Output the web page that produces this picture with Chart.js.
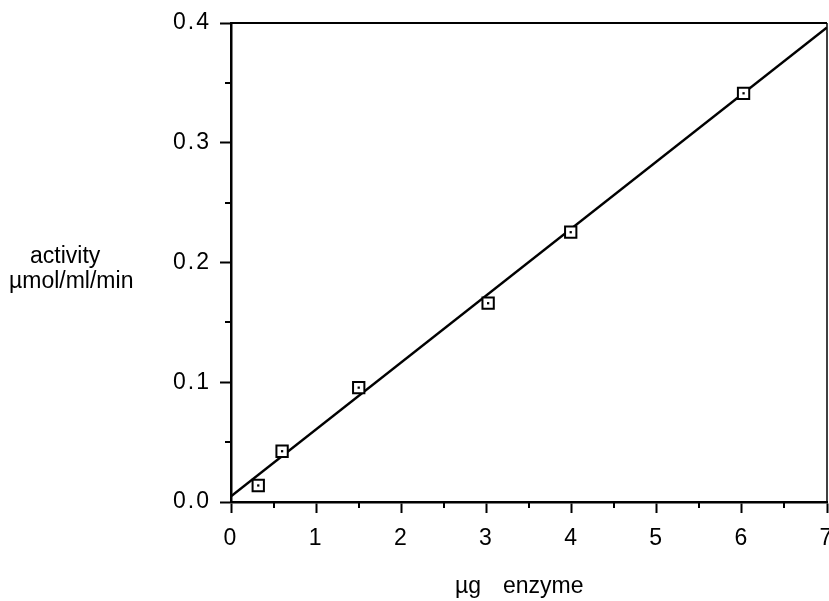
<!DOCTYPE html>
<html>
<head>
<meta charset="utf-8">
<script src="https://cdn.jsdelivr.net/npm/chart.js@4/dist/chart.umd.min.js"></script>
<style>
  html, body { margin: 0; padding: 0; background: #fff; }
  #wrap { width: 829px; height: 601px; position: relative; }
</style>
</head>
<body>
<div id="wrap"><canvas id="c" width="829" height="601"></canvas></div>
<script>
// measured enzyme amounts (µg) and activities (µmol/ml/min)
const enzymeUg = [0.32, 0.60, 1.50, 3.02, 3.99, 6.02];
const activity = [0.0138, 0.0424, 0.0955, 0.166, 0.2253, 0.3413];

// fitted straight line end points
const fitX = [0, 7];
const fitY = [0.0048, 0.3963];

// axis ticks
const xMajorTicks = [0, 1, 2, 3, 4, 5, 6, 7];
const xMinorTicks = [0.5, 1.5, 2.5, 3.5, 4.5, 5.5, 6.5];
const yMajorTicks = [0.0, 0.1, 0.2, 0.3, 0.4];
const yMinorTicks = [0.05, 0.15, 0.25, 0.35];

const yTitleLines = ['activity', 'µmol/ml/min'];
const xTitleWords = ['µg', 'enzyme'];

const FONT = '"Liberation Sans", Arial, Helvetica, sans-serif';
const FONT_SIZE = 23;

const points = enzymeUg.map((x, i) => ({ x, y: activity[i] }));
const fitLine = fitX.map((x, i) => ({ x, y: fitY[i] }));

const decor = {
  id: 'decor',
  beforeDraw(chart) {
    // slightly wider spacing for the axis numbers
    chart.ctx.letterSpacing = '2px';
  },
  beforeDatasetsDraw(chart) {
    chart.ctx.letterSpacing = '0px';
  },
  afterDraw(chart) {
    const ctx = chart.ctx;
    const { left, right, top, bottom } = chart.chartArea;
    const xs = chart.scales.x, ys = chart.scales.y;
    ctx.save();
    ctx.letterSpacing = '0px';
    ctx.strokeStyle = '#000';
    // frame top and right
    ctx.lineWidth = 2;
    ctx.beginPath();
    ctx.moveTo(left, top); ctx.lineTo(right, top);
    ctx.stroke();
    ctx.lineWidth = 1.5;
    ctx.beginPath();
    ctx.moveTo(right, top); ctx.lineTo(right, bottom);
    ctx.stroke();
    // minor ticks
    ctx.lineWidth = 2;
    ctx.beginPath();
    xMinorTicks.forEach(v => {
      const px = Math.round(xs.getPixelForValue(v));
      ctx.moveTo(px, bottom); ctx.lineTo(px, bottom + 6);
    });
    yMinorTicks.forEach(v => {
      const py = Math.round(ys.getPixelForValue(v));
      ctx.moveTo(left, py); ctx.lineTo(left - 6, py);
    });
    ctx.stroke();
    // axis titles
    ctx.fillStyle = '#000';
    ctx.font = FONT_SIZE + 'px ' + FONT;
    ctx.textBaseline = 'alphabetic';
    ctx.textAlign = 'left';
    ctx.fillText(yTitleLines[0], 30, 263);
    ctx.fillText(yTitleLines[1], 9, 288);
    ctx.fillText(xTitleWords[0], 455, 593);
    ctx.fillText(xTitleWords[1], 503, 593);
    ctx.restore();
  }
};

new Chart(document.getElementById('c'), {
  type: 'scatter',
  data: {
    datasets: [
      {
        type: 'line',
        data: fitLine,
        borderColor: '#000',
        borderWidth: 2.5,
        pointRadius: 0,
        fill: false,
        order: 3
      },
      {
        data: points,
        pointStyle: 'rect',
        pointRadius: 8,
        pointBorderWidth: 2,
        pointBorderColor: '#000',
        pointBackgroundColor: '#fff',
        order: 2
      },
      {
        data: points,
        pointStyle: 'rect',
        pointRadius: 1.6,
        pointBorderWidth: 0,
        pointBackgroundColor: '#000',
        order: 1
      }
    ]
  },
  options: {
    responsive: false,
    animation: false,
    devicePixelRatio: 1,
    layout: { autoPadding: false, padding: { left: 0, right: 2, top: 23, bottom: 0 } },
    plugins: { legend: { display: false }, tooltip: { enabled: false } },
    scales: {
      x: {
        type: 'linear',
        min: 0, max: 7,
        afterBuildTicks: s => { s.ticks = xMajorTicks.map(v => ({ value: v })); },
        afterFit: s => {
          s.height = 99;
          s.paddingLeft = 0; s.paddingRight = 0;
          if (s._margins) { s._margins.left = 0; s._margins.right = 0; }
        },
        border: { color: '#000', width: 2.5 },
        grid: { drawOnChartArea: false, tickLength: 11, tickColor: '#000', tickWidth: 2 },
        ticks: { color: '#000', font: { family: FONT, size: FONT_SIZE }, padding: 12, maxRotation: 0 }
      },
      y: {
        type: 'linear',
        min: 0, max: 0.4,
        afterBuildTicks: s => { s.ticks = yMajorTicks.map(v => ({ value: v })); },
        afterFit: s => {
          s.width = 231;
          s.paddingTop = 0; s.paddingBottom = 0;
          if (s._margins) { s._margins.top = 0; s._margins.bottom = 0; }
        },
        border: { color: '#000', width: 2.5 },
        grid: { drawOnChartArea: false, tickLength: 11, tickColor: '#000', tickWidth: 2 },
        ticks: { color: '#000', font: { family: FONT, size: FONT_SIZE }, padding: 9, callback: v => v.toFixed(1) }
      }
    }
  },
  plugins: [decor]
});
</script>
</body>
</html>
